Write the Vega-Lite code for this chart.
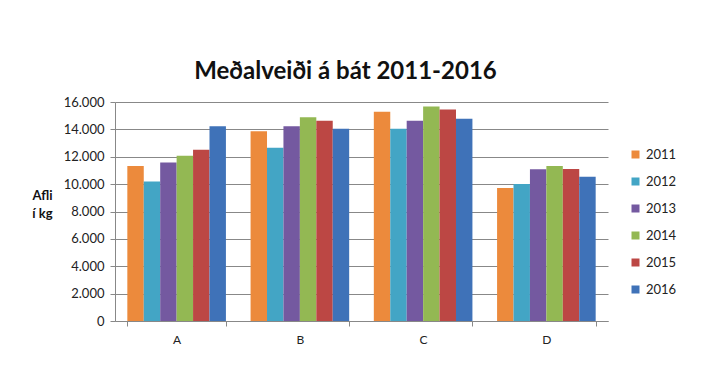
{
  "$schema": "https://vega.github.io/schema/vega-lite/v6.json",
  "width": 493,
  "height": 219,
  "autosize": {"type": "none"},
  "padding": {"left": 115, "top": 102, "right": 105, "bottom": 66},
  "background": "white",
  "config": {
    "font": "Lato",
    "view": {"stroke": null}
  },
  "title": {
    "text": "Meðalveiði á bát 2011-2016",
    "font": "Lato",
    "fontSize": 24,
    "fontWeight": "bold",
    "color": "#111111",
    "anchor": "middle",
    "dx": -16,
    "offset": 12
  },
  "data": {
    "values": [
      {"flokkur": "A", "ar": "2011", "afli": 11330},
      {"flokkur": "A", "ar": "2012", "afli": 10190},
      {"flokkur": "A", "ar": "2013", "afli": 11580},
      {"flokkur": "A", "ar": "2014", "afli": 12070},
      {"flokkur": "A", "ar": "2015", "afli": 12510},
      {"flokkur": "A", "ar": "2016", "afli": 14220},
      {"flokkur": "B", "ar": "2011", "afli": 13870},
      {"flokkur": "B", "ar": "2012", "afli": 12650},
      {"flokkur": "B", "ar": "2013", "afli": 14220},
      {"flokkur": "B", "ar": "2014", "afli": 14880},
      {"flokkur": "B", "ar": "2015", "afli": 14630},
      {"flokkur": "B", "ar": "2016", "afli": 14040},
      {"flokkur": "C", "ar": "2011", "afli": 15290},
      {"flokkur": "C", "ar": "2012", "afli": 14040},
      {"flokkur": "C", "ar": "2013", "afli": 14630},
      {"flokkur": "C", "ar": "2014", "afli": 15680},
      {"flokkur": "C", "ar": "2015", "afli": 15460},
      {"flokkur": "C", "ar": "2016", "afli": 14780},
      {"flokkur": "D", "ar": "2011", "afli": 9720},
      {"flokkur": "D", "ar": "2012", "afli": 10010},
      {"flokkur": "D", "ar": "2013", "afli": 11090},
      {"flokkur": "D", "ar": "2014", "afli": 11330},
      {"flokkur": "D", "ar": "2015", "afli": 11110},
      {"flokkur": "D", "ar": "2016", "afli": 10530}
    ]
  },
  "mark": {"type": "bar"},
  "encoding": {
    "x": {
      "field": "flokkur",
      "type": "nominal",
      "scale": {"paddingInner": 0.2, "paddingOuter": 0.1},
      "axis": {
        "title": null,
        "labelAngle": 0,
        "labelFontSize": 12,
        "labelColor": "#222222",
        "labelPadding": 8,
        "tickBand": "extent",
        "tickColor": "#888888",
        "tickSize": 5,
        "domainColor": "#888888",
        "grid": false
      }
    },
    "xOffset": {"field": "ar", "type": "nominal", "scale": {"paddingInner": 0, "paddingOuter": 0}},
    "y": {
      "field": "afli",
      "type": "quantitative",
      "scale": {"domain": [0, 16000]},
      "axis": {
        "values": [0, 2000, 4000, 6000, 8000, 10000, 12000, 14000, 16000],
        "labelExpr": "replace(format(datum.value, ','), ',', '.')",
        "labelFontSize": 13,
        "labelColor": "#222222",
        "labelPadding": 6,
        "tickColor": "#888888",
        "tickSize": 5,
        "domainColor": "#888888",
        "gridColor": "#888888",
        "gridWidth": 1,
        "title": ["Afli", "í kg"],
        "titleAngle": 0,
        "titleAlign": "center",
        "titleBaseline": "middle",
        "titleFontSize": 13,
        "titleFontWeight": "bold",
        "titleColor": "#111111",
        "titleX": -73,
        "titleY": 93,
        "titleLineHeight": 18
      }
    },
    "color": {
      "field": "ar",
      "type": "nominal",
      "scale": {
        "domain": ["2011", "2012", "2013", "2014", "2015", "2016"],
        "range": ["#EC8A3C", "#43A5C5", "#7459A0", "#93B853", "#BC4744", "#3F72B8"]
      },
      "legend": {
        "title": null,
        "orient": "none",
        "legendX": 514,
        "legendY": 46,
        "symbolType": "square",
        "symbolSize": 64,
        "symbolStrokeWidth": 0,
        "labelFontSize": 13,
        "labelColor": "#222222",
        "labelOffset": 4,
        "rowPadding": 13
      }
    }
  }
}
